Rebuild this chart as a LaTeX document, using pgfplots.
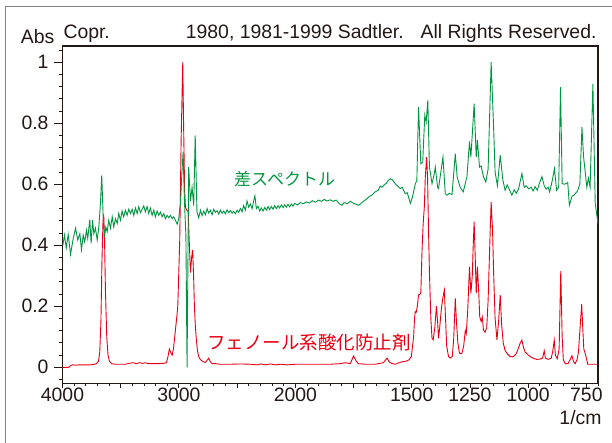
\documentclass[border=0pt]{standalone}
\usepackage{fontspec}
\setmainfont{Liberation Sans}
\newfontfamily\jp{Noto Sans CJK JP}
\usepackage{pgfplots}
\pgfplotsset{compat=1.18}
\definecolor{sgreen}{RGB}{0,150,65}
\definecolor{sred}{RGB}{230,0,18}
\definecolor{ink}{RGB}{35,24,21}
\definecolor{framegray}{RGB}{130,130,130}
\begin{document}
\begin{tikzpicture}[x=1bp,y=1bp,font=\fontsize{19.4bp}{22bp}\selectfont]
\useasboundingbox (0,0) rectangle (612,443);
\draw[framegray, line width=1.3bp] (5.7,-5) -- (5.7,436.3) -- (620,436.3);
\begin{axis}[
  at={(62.5bp,59.7bp)}, anchor=south west,
  width=535.5bp, height=337.3bp, scale only axis,
  x coord trafo/.code={\pgfmathparse{#1>=2000 ? (4000-#1)/1000 : 2+(2000-#1)/500}},
  xmin=4000, xmax=700,
  ymin=-0.0524, ymax=1.053,
  axis line style={ink, line width=1.1bp},
  tick style={ink, line width=0.9bp},
  tick align=outside,
  xtick pos=left, ytick pos=left,
  major tick length=8bp, minor tick length=4bp,
  xtick style={/pgfplots/major tick length=5bp, /pgfplots/minor tick length=2.7bp},
  xtick={4000,3000,2000,1500,1250,1000,750},
  xticklabels={4000,3000,2000,1500,1250,1000,750},
  extra x ticks={3500,2500,1750},
  extra x tick labels={},
  minor xtick={3900,3800,3700,3600,3400,3300,3200,3100,2900,2800,2700,2600,2400,2300,2200,2100,1950,1900,1850,1800,1700,1650,1600,1550,1450,1400,1350,1300,1200,1150,1100,1050,950,900,850,800,700},
  ytick={0,0.2,0.4,0.6,0.8,1},
  yticklabels={0,0.2,0.4,0.6,0.8,1},
  minor ytick={-0.04,0.04,0.08,0.12,0.16,0.24,0.28,0.32,0.36,0.44,0.48,0.52,0.56,0.64,0.68,0.72,0.76,0.84,0.88,0.92,0.96,1.04},
  ticklabel style={ink},
  xticklabel style={yshift=7bp},
  yticklabel style={xshift=-2.5bp},
]
\addplot[sred, line width=0.9bp] coordinates {
(4000,0.000)(3949,0.000)(3931,0.005)(3914,0.008)(3888,0.007)(3863,0.008)(3828,0.008)(3794,0.008)(3760,0.008)(3725,0.010)(3708,0.012)(3691,0.020)(3680,0.050)(3670,0.150)(3661,0.350)(3652,0.480)(3646,0.500)(3639,0.420)(3631,0.250)(3620,0.100)(3609,0.040)(3597,0.020)(3579,0.012)(3545,0.010)(3502,0.010)(3459,0.010)(3416,0.014)(3391,0.015)(3365,0.012)(3339,0.015)(3313,0.013)(3288,0.015)(3262,0.012)(3227,0.012)(3176,0.012)(3133,0.013)(3107,0.015)(3094,0.035)(3082,0.060)(3069,0.048)(3058,0.040)(3047,0.060)(3030,0.122)(3017,0.170)(3010,0.198)(3002,0.300)(2993,0.417)(2981,0.744)(2967,1.000)(2960,0.800)(2951,0.580)(2944,0.525)(2933,0.515)(2921,0.512)(2910,0.400)(2901,0.310)(2891,0.360)(2882,0.384)(2874,0.300)(2867,0.200)(2858,0.130)(2850,0.090)(2841,0.055)(2830,0.035)(2815,0.025)(2790,0.018)(2772,0.016)(2760,0.022)(2744,0.030)(2730,0.018)(2715,0.012)(2687,0.012)(2644,0.010)(2558,0.010)(2472,0.011)(2386,0.010)(2326,0.008)(2300,0.011)(2257,0.008)(2215,0.011)(2172,0.008)(2129,0.010)(2069,0.008)(2000,0.010)
(1979,0.010)(1936,0.010)(1893,0.010)(1850,0.010)(1807,0.012)(1785,0.015)(1764,0.012)(1750,0.037)(1738,0.020)(1730,0.012)(1700,0.010)(1657,0.010)(1622,0.015)(1606,0.030)(1597,0.018)(1584,0.012)(1571,0.010)(1558,0.014)(1541,0.018)(1524,0.020)(1511,0.025)(1502,0.035)(1492,0.100)(1488,0.160)(1485,0.182)(1481,0.180)(1476,0.200)(1471,0.237)(1464,0.240)(1461,0.245)(1456,0.380)(1451,0.470)(1446,0.525)(1442,0.620)(1436,0.689)(1432,0.620)(1428,0.450)(1424,0.310)(1418,0.160)(1413,0.095)(1408,0.090)(1401,0.130)(1394,0.200)(1389,0.150)(1385,0.095)(1380,0.130)(1373,0.190)(1367,0.225)(1360,0.253)(1356,0.180)(1350,0.070)(1342,0.035)(1335,0.030)(1326,0.035)(1320,0.090)(1313,0.226)(1308,0.150)(1302,0.080)(1295,0.046)(1285,0.045)(1277,0.070)(1270,0.120)(1266,0.110)(1260,0.180)(1252,0.330)(1246,0.242)(1240,0.300)(1236,0.400)(1232,0.477)(1227,0.350)(1223,0.242)(1218,0.330)(1212,0.240)(1208,0.165)(1202,0.150)(1197,0.165)(1192,0.122)(1185,0.115)(1178,0.130)(1172,0.220)(1165,0.400)(1159,0.542)(1153,0.450)(1148,0.300)(1142,0.160)(1134,0.090)(1127,0.150)(1120,0.237)(1114,0.140)(1107,0.080)(1099,0.055)(1090,0.045)(1077,0.035)(1063,0.035)(1051,0.045)(1042,0.062)(1034,0.080)(1027,0.089)(1020,0.065)(1013,0.050)(1002,0.042)(991,0.035)(979,0.030)(963,0.026)(948,0.027)(938,0.030)(931,0.054)(926,0.030)(914,0.026)(901,0.030)(895,0.050)(888,0.089)(883,0.040)(875,0.028)(867,0.060)(860,0.316)(854,0.100)(849,0.025)(841,0.012)(829,0.012)(820,0.025)(812,0.038)(805,0.018)(798,0.012)(790,0.025)(784,0.050)(777,0.130)(770,0.207)(765,0.120)(761,0.060)(753,0.040)(744,0.010)(734,0.010)(700,0.010)
};
\addplot[sgreen, line width=0.9bp] coordinates {
(3997,0.400)(3983,0.433)(3968,0.391)(3951,0.435)(3931,0.370)(3908,0.422)(3888,0.456)(3869,0.417)(3851,0.438)(3837,0.385)(3822,0.433)(3809,0.411)(3794,0.449)(3783,0.422)(3766,0.484)(3754,0.406)(3742,0.482)(3731,0.438)(3717,0.456)(3702,0.417)(3688,0.460)(3674,0.537)(3663,0.629)(3651,0.498)(3639,0.427)(3628,0.460)(3616,0.444)(3603,0.482)(3588,0.456)(3573,0.493)(3560,0.460)(3545,0.487)(3530,0.471)(3517,0.504)(3502,0.482)(3488,0.512)(3474,0.493)(3459,0.515)(3445,0.498)(3431,0.518)(3416,0.504)(3402,0.518)(3388,0.498)(3373,0.522)(3359,0.504)(3345,0.526)(3330,0.507)(3316,0.518)(3302,0.529)(3288,0.509)(3273,0.527)(3259,0.504)(3245,0.522)(3230,0.498)(3216,0.515)(3202,0.493)(3187,0.512)(3173,0.498)(3159,0.509)(3144,0.493)(3130,0.504)(3116,0.487)(3101,0.498)(3088,0.490)(3073,0.498)(3058,0.487)(3045,0.493)(3030,0.482)(3015,0.469)(3002,0.487)(2987,0.537)(2973,0.646)(2964,0.706)(2953,0.550)(2940,0.430)(2930,0.000)(2916,0.656)(2901,0.545)(2887,0.590)(2873,0.530)(2860,0.760)(2845,0.510)(2830,0.490)(2815,0.515)(2801,0.497)(2787,0.512)
(2772,0.500)(2758,0.520)(2744,0.505)(2730,0.515)(2715,0.500)(2701,0.518)(2687,0.508)(2672,0.513)(2658,0.502)(2644,0.515)(2629,0.505)(2615,0.512)(2601,0.503)(2586,0.516)(2572,0.507)(2558,0.514)(2543,0.505)(2530,0.511)(2515,0.503)(2500,0.515)(2487,0.508)(2472,0.520)(2457,0.510)(2444,0.530)(2429,0.515)(2415,0.545)(2401,0.525)(2386,0.535)(2371,0.520)(2358,0.545)(2347,0.562)(2335,0.520)(2320,0.528)(2306,0.512)(2292,0.522)(2277,0.512)(2263,0.524)(2249,0.515)(2234,0.527)(2221,0.517)(2206,0.527)(2191,0.518)(2178,0.530)(2163,0.520)(2148,0.530)(2135,0.522)(2120,0.532)(2105,0.523)(2092,0.533)(2077,0.525)(2063,0.534)(2049,0.526)(2034,0.535)(2019,0.528)(2006,0.537)
(1991,0.532)(1979,0.540)(1966,0.536)(1953,0.542)(1940,0.538)(1927,0.546)(1914,0.541)(1901,0.548)(1888,0.544)(1876,0.550)(1863,0.545)(1850,0.549)(1837,0.544)(1824,0.548)(1811,0.536)(1800,0.531)(1790,0.540)(1777,0.536)(1764,0.544)(1751,0.538)(1738,0.534)(1728,0.531)(1717,0.538)(1704,0.546)(1692,0.553)(1682,0.560)(1670,0.565)(1657,0.575)(1644,0.580)(1635,0.594)(1628,0.590)(1618,0.598)(1609,0.603)(1601,0.612)(1592,0.618)(1584,0.615)(1571,0.602)(1562,0.595)(1549,0.586)(1541,0.590)(1528,0.569)(1519,0.572)(1506,0.537)(1498,0.555)(1492,0.575)(1485,0.600)(1478,0.613)(1471,0.853)(1461,0.667)(1453,0.672)(1444,0.826)(1438,0.804)(1431,0.875)(1424,0.656)(1413,0.602)(1403,0.635)(1399,0.656)(1389,0.590)(1385,0.586)(1375,0.640)(1366,0.689)(1356,0.569)(1348,0.564)(1339,0.570)(1327,0.566)(1313,0.700)(1305,0.624)(1292,0.590)(1279,0.575)(1263,0.624)(1252,0.740)(1246,0.689)(1232,0.864)(1223,0.689)(1218,0.744)(1209,0.656)(1202,0.660)(1192,0.624)(1182,0.607)(1172,0.650)(1159,1.000)(1149,0.798)(1142,0.640)(1132,0.595)(1120,0.695)(1109,0.615)(1099,0.580)(1090,0.598)(1082,0.585)(1070,0.564)(1060,0.582)(1051,0.570)(1041,0.585)(1027,0.635)(1017,0.590)(1009,0.595)(998,0.585)(987,0.590)(979,0.578)(970,0.592)(961,0.580)(953,0.600)(941,0.625)(931,0.595)(923,0.584)(914,0.590)(908,0.575)(897,0.610)(887,0.651)(878,0.580)(869,0.590)(861,0.918)(854,0.602)(843,0.600)(830,0.605)(823,0.531)(812,0.560)(802,0.565)(788,0.578)(778,0.600)(769,0.787)(762,0.690)(755,0.640)(748,0.590)(741,0.620)(734,0.590)(722,0.929)(712,0.537)(702,0.482)(700,0.470)
};
\end{axis}
\node[anchor=base west, inner sep=0, ink] at (20.7,399.7) {Abs};
\node[anchor=base west, inner sep=0, ink] at (63.3,404.7) {Copr.};
\node[anchor=base east, inner sep=0, ink] at (596.7,404.7) {1980, 1981-1999 Sadtler.\hspace{17bp}All Rights Reserved.};
\node[anchor=base east, inner sep=0, ink] at (601.7,18) {1/cm};
\node[anchor=west, inner sep=0, sgreen, font=\jp\fontsize{17bp}{20bp}\selectfont] at (234,264) {差スペクトル};
\node[anchor=west, inner sep=0, sred, font=\jp\fontsize{18.5bp}{22bp}\selectfont] at (207,100.5) {フェノール系酸化防止剤};
\end{tikzpicture}
\end{document}
